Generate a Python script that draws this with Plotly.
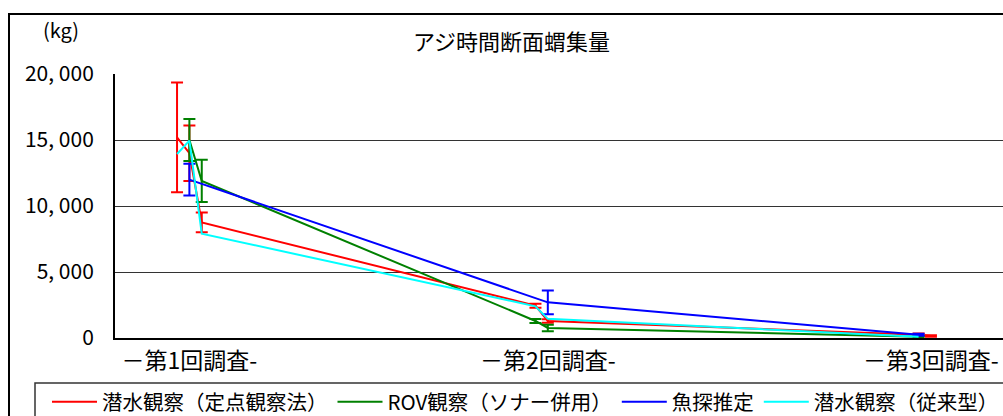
import plotly.graph_objects as go

# Survey schedule: day index along the time axis and the labels shown under it
survey_days = [1, 30, 61]
survey_labels = ["－第1回調査-", "－第2回調査-", "－第3回調査-"]

# 潜水観察(定点観察法)
teiten_days = [0, 1, 2, 29, 30, 60, 61]
teiten_kg = [15200, 14000, 8760, 2450, 1290, 250, 150]
teiten_err = [4150, 2100, 750, 150, 130, 100, 60]

# ROV観察(ソナー併用)
rov_days = [1, 2, 29, 30, 60]
rov_kg = [15000, 11900, 1290, 760, 100]
rov_err = [1600, 1600, 150, 250, 50]

# 魚探推定
gyotan_days = [1, 30, 60]
gyotan_kg = [12000, 2700, 250]
gyotan_err = [1200, 900, 80]

# 潜水観察(従来型)
juurai_days = [0, 1, 2, 29, 30, 60]
juurai_kg = [13940, 14950, 7900, 2400, 1450, 100]

y_ticks = [0, 5000, 10000, 15000, 20000]

FONT = "Noto Sans CJK JP"

W, H = 1003, 416
ML, MR, MT, MB = 115, 0, 74, 78
PW, PH = W - ML - MR, H - MT - MB


def px_x(px):
    return (px - ML) / PW


def px_y(py):
    return (H - MB - py) / PH


def series(name, days, kg, color, err=None):
    tr = go.Scatter(
        x=days, y=kg, name=name, mode="lines",
        line=dict(color=color, width=2),
    )
    if err is not None:
        tr.error_y = dict(type="data", array=err, visible=True,
                          color=color, thickness=2, width=6)
    return tr


fig = go.Figure()
fig.add_trace(series("潜水観察（定点観察法）", teiten_days, teiten_kg, "#FF0000", teiten_err))
fig.add_trace(series("ROV観察（ソナー併用）", rov_days, rov_kg, "#008000", rov_err))
fig.add_trace(series("魚探推定", gyotan_days, gyotan_kg, "#0000FF", gyotan_err))
fig.add_trace(series("潜水観察（従来型）", juurai_days, juurai_kg, "#00FFFF"))

fig.update_layout(
    width=W, height=H, autosize=False,
    margin=dict(l=ML, r=MR, t=MT, b=MB, autoexpand=False),
    paper_bgcolor="white", plot_bgcolor="white",
    font=dict(family=FONT, size=21, color="black"),
    showlegend=True,
    legend=dict(
        orientation="h", x=px_x(47), xanchor="left",
        y=px_y(382), yanchor="top",
        font=dict(family=FONT, size=20.5, color="black"),
        bgcolor="rgba(0,0,0,0)", itemwidth=45,
    ),
    xaxis=dict(
        range=[-5.02, 66.83], tickmode="array",
        tickvals=survey_days, ticktext=survey_labels,
        showgrid=False, zeroline=False, ticks="",
        showline=True, linecolor="black", linewidth=2,
        tickfont=dict(family=FONT, size=23),
        ticklabelstandoff=1,
    ),
    yaxis=dict(
        range=[0, 20000], tickmode="array", tickvals=y_ticks,
        ticktext=[f"{v:,}".replace(",", ", ") for v in y_ticks],
        showgrid=True, gridcolor="#333333", gridwidth=1,
        zeroline=False, ticks="",
        showline=True, linecolor="black", linewidth=2,
        tickfont=dict(family=FONT, size=21),
        ticklabelstandoff=15,
    ),
    shapes=[
        # outer chart frame
        dict(type="rect", xref="paper", yref="paper",
             x0=px_x(9), x1=1.05, y0=px_y(440), y1=px_y(14),
             line=dict(color="black", width=2), layer="below"),
        # legend frame
        dict(type="rect", xref="paper", yref="paper",
             x0=px_x(35), x1=1.05, y0=px_y(440), y1=px_y(383),
             line=dict(color="#333333", width=1.5), layer="below"),
    ],
    annotations=[
        dict(text="アジ時間断面蝟集量", xref="paper", yref="paper",
             x=px_x(511), y=px_y(40), xanchor="center", yanchor="middle",
             showarrow=False, font=dict(family=FONT, size=22)),
        dict(text="(kg)", xref="paper", yref="paper",
             x=px_x(61), y=px_y(30), xanchor="center", yanchor="middle",
             showarrow=False, font=dict(family=FONT, size=20)),
    ],
)

fig.write_html("out.html")
